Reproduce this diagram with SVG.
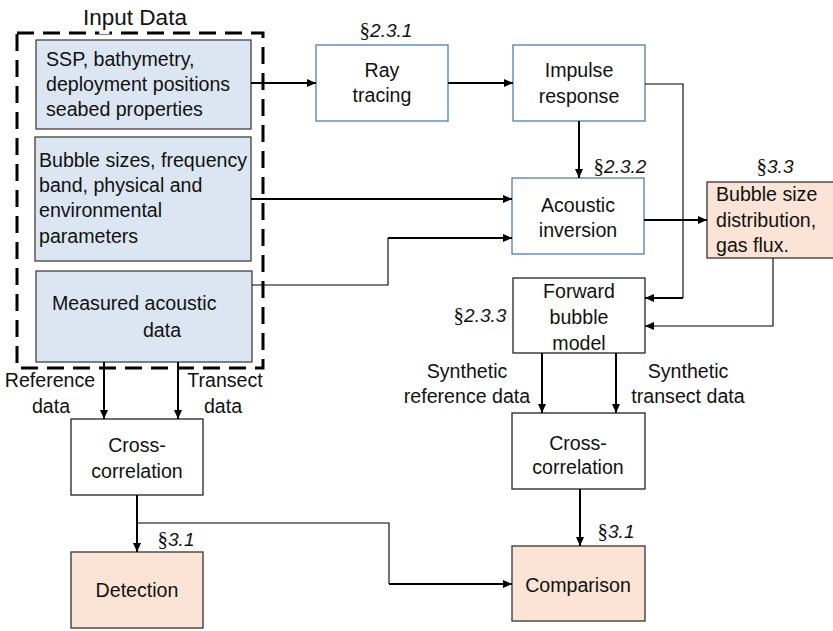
<svg xmlns="http://www.w3.org/2000/svg" width="833" height="631" viewBox="0 0 833 631">
<style>
text{font-family:"Liberation Sans",Arial,sans-serif;font-size:19.6px;fill:#111}
.c{text-anchor:middle}
.sec{font-size:19px;font-style:italic}
.sym{font-family:"Liberation Serif","Times New Roman",serif;font-style:normal;font-size:21px}
.in{fill:#dce6f2;stroke:#404040;stroke-width:1.3}
.bl{fill:#fff;stroke:#4f7fb0;stroke-width:1.3}
.pk{fill:#fbe4d5;stroke:#333;stroke-width:1.3}
.wt{fill:#fff;stroke:#222;stroke-width:1.3}
.th{fill:none;stroke:#000;stroke-width:2}
.tn{fill:none;stroke:#000;stroke-width:1.1}
</style>
<defs>
<marker id="a" markerUnits="userSpaceOnUse" markerWidth="9" markerHeight="8" refX="9" refY="4" orient="auto">
<path d="M0,0 L9,4 L0,8 z" fill="#000"/>
</marker>
</defs>
<rect width="833" height="631" fill="#fff"/>

<g id="input-data">
<rect x="17" y="33" width="246" height="335" fill="none" stroke="#000" stroke-width="3" stroke-dasharray="17,9"/>
<text x="135" y="25" class="c" style="font-size:22.5px;fill:#fff;stroke:#fff;stroke-width:8">Input Data</text>
<text x="135" y="25" class="c" style="font-size:22.5px">Input Data</text>
</g>

<g id="ssp">
<rect class="in" x="36" y="40" width="215" height="89"/>
<text x="46" y="66">SSP, bathymetry,</text>
<text x="46" y="91">deployment positions</text>
<text x="46" y="116">seabed properties</text>
</g>

<g id="bubble-sizes">
<rect class="in" x="35" y="137" width="216" height="124"/>
<text x="39" y="167">Bubble sizes, frequency</text>
<text x="39" y="192">band, physical and</text>
<text x="39" y="217">environmental</text>
<text x="39" y="243">parameters</text>
</g>

<g id="measured">
<rect class="in" x="36" y="271" width="216" height="91"/>
<text x="52" y="310">Measured acoustic</text>
<text x="162" y="337" class="c">data</text>
</g>

<g id="ray-tracing">
<rect class="bl" x="316" y="45" width="132" height="76"/>
<text x="382" y="77" class="c">Ray</text>
<text x="382" y="102" class="c">tracing</text>
<text x="386" y="37" class="c sec"><tspan class="sym">§</tspan>2.3.1</text>
</g>

<g id="impulse-response">
<rect class="bl" x="513" y="45" width="132" height="76"/>
<text x="579" y="77" class="c">Impulse</text>
<text x="579" y="103" class="c">response</text>
</g>

<g id="acoustic-inversion">
<rect class="bl" x="512" y="178" width="132" height="76"/>
<text x="578" y="212" class="c">Acoustic</text>
<text x="578" y="237" class="c">inversion</text>
<text x="620" y="173" class="c sec"><tspan class="sym">§</tspan>2.3.2</text>
</g>

<g id="bubble-size-dist">
<rect class="pk" x="707" y="182" width="127" height="76"/>
<text x="716" y="201">Bubble size</text>
<text x="716" y="227">distribution,</text>
<text x="716" y="252">gas flux.</text>
<text x="775" y="173" class="c sec"><tspan class="sym">§</tspan>3.3</text>
</g>

<g id="forward-model">
<rect class="wt" x="513" y="278" width="132" height="75"/>
<text x="579" y="298" class="c">Forward</text>
<text x="579" y="324" class="c">bubble</text>
<text x="579" y="350" class="c">model</text>
<text x="480" y="322" class="c sec"><tspan class="sym">§</tspan>2.3.3</text>
</g>

<g id="cross-corr-right">
<rect class="wt" x="512" y="413" width="133" height="76"/>
<text x="578" y="450" class="c">Cross-</text>
<text x="578" y="474" class="c">correlation</text>
</g>

<g id="comparison">
<rect class="pk" x="512" y="546" width="133" height="75"/>
<text x="578" y="592" class="c">Comparison</text>
<text x="616" y="538" class="c sec"><tspan class="sym">§</tspan>3.1</text>
</g>

<g id="cross-corr-left">
<rect class="wt" x="71" y="419" width="132" height="76"/>
<text x="137" y="452" class="c">Cross-</text>
<text x="137" y="478" class="c">correlation</text>
</g>

<g id="detection">
<rect class="pk" x="71" y="552" width="132" height="76"/>
<text x="137" y="597" class="c">Detection</text>
<text x="176" y="546" class="c sec"><tspan class="sym">§</tspan>3.1</text>
</g>

<g id="labels">
<text x="50" y="387" class="c">Reference</text>
<text x="51" y="413" class="c">data</text>
<text x="225" y="387" class="c">Transect</text>
<text x="223" y="413" class="c">data</text>
<text x="467" y="378" class="c">Synthetic</text>
<text x="467" y="403" class="c">reference data</text>
<text x="688" y="378" class="c">Synthetic</text>
<text x="688" y="403" class="c">transect data</text>
</g>

<g id="connectors">
<path class="th" d="M251,83 H316" marker-end="url(#a)"/>
<path class="th" d="M448,83 H513" marker-end="url(#a)"/>
<path class="th" d="M579,121 V178" marker-end="url(#a)"/>
<path class="tn" d="M645,84 H683 V298"/>
<path class="th" d="M683,298 H645" marker-end="url(#a)"/>
<path class="th" d="M251,199 H512" marker-end="url(#a)"/>
<path class="tn" d="M252,285 H388 V238"/>
<path class="th" d="M388,238 H512" marker-end="url(#a)"/>
<path class="th" d="M644,220 H707" marker-end="url(#a)"/>
<path class="tn" d="M773,258 V326 H645" marker-end="url(#a)"/>
<path class="th" d="M542,353 V413" marker-end="url(#a)"/>
<path class="th" d="M616,353 V413" marker-end="url(#a)"/>
<path class="th" d="M580,489 V546" marker-end="url(#a)"/>
<path class="th" d="M104,362 V419" marker-end="url(#a)"/>
<path class="th" d="M178,362 V419" marker-end="url(#a)"/>
<path class="th" d="M137,495 V552" marker-end="url(#a)"/>
<path class="tn" d="M137,523 H389 V584"/>
<path class="th" d="M389,584 H512" marker-end="url(#a)"/>
</g>
</svg>
